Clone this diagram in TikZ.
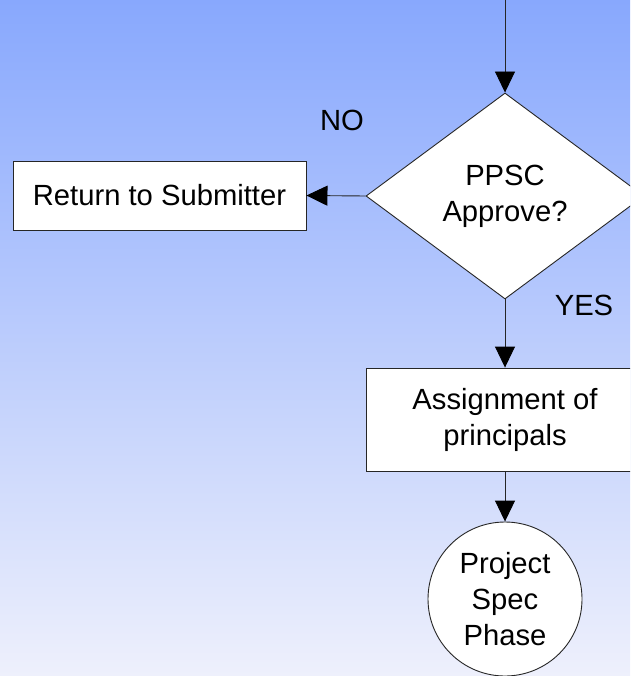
\documentclass[tikz,border=0pt]{standalone}
\usepackage{fontspec}
\setmainfont{Liberation Sans}
\usetikzlibrary{shapes.geometric,arrows.meta}
\definecolor{bgtop}{RGB}{136,168,253}
\definecolor{bgbot}{RGB}{238,240,252}
\tikzset{
  every node/.style={font=\fontsize{29.2}{36}\selectfont, text=black},
  procbox/.style={draw=black!85, fill=white, line width=0.9pt, align=center, inner sep=0pt},
  decision/.style={diamond, draw=black!85, fill=white, line width=0.9pt, align=center,
    inner sep=0pt, aspect=1.35, minimum width=278pt, minimum height=206pt},
  terminal/.style={circle, draw=black!85, fill=white, line width=0.9pt, align=center,
    inner sep=0pt, minimum size=154pt},
  flow/.style={draw=black!85, line width=0.9pt,
    -{Triangle[length=21pt,width=20pt,color=black]}},
  tag/.style={inner sep=0pt}
}
\begin{document}
\begin{tikzpicture}[x=1pt,y=-1pt]
  % canvas with vertical gradient
  \useasboundingbox (0,0) rectangle (630,676);
  \clip (0,0) rectangle (630,676);
  \shade[top color=bgtop, bottom color=bgbot] (0,0) rectangle (630,676);

  % nodes
  \coordinate (entry) at (505,0);
  \node[decision] (ppsc) at (505,196) {PPSC\\Approve?};
  \node[procbox, minimum width=293pt, minimum height=69pt] (ret) at (159.5,195.5) {Return to Submitter};
  \node[procbox, minimum width=278pt, minimum height=103pt] (assign) at (505,419.5) {Assignment of\\principals};
  \node[terminal] (spec) at (505,599) {Project\\Spec\\Phase};

  % labels
  \node[tag] (no) at (342,120) {NO};
  \node[tag] (yes) at (584,305) {YES};

  % connectors
  \draw[flow] (entry) -- (ppsc.north);
  \draw[flow] (ppsc.west) -- (ret.east);
  \draw[flow] (ppsc.south) -- (assign.north);
  \draw[flow] (assign.south) -- (spec.north);
\end{tikzpicture}
\end{document}
